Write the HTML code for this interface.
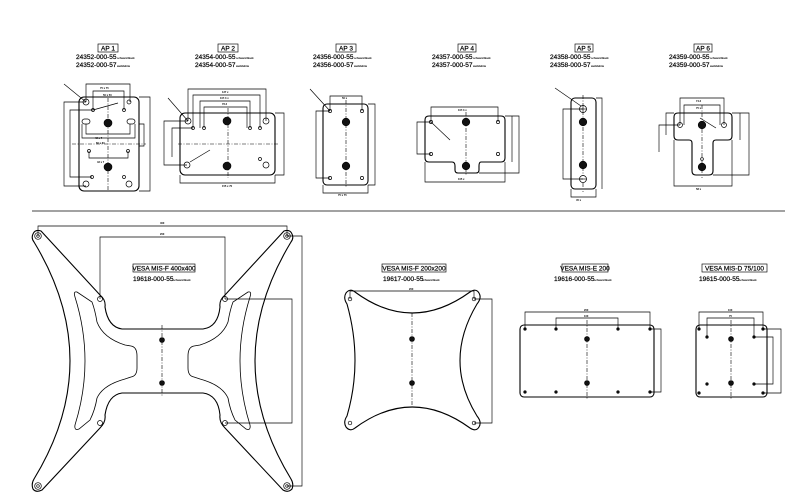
<!DOCTYPE html>
<html><head><meta charset="utf-8"><style>
html,body{margin:0;padding:0;background:#fff;}
svg{display:block;}
text{font-family:"Liberation Sans",sans-serif;fill:#000;}
.t{font-size:6.5px;stroke:#000;stroke-width:0.2;}
.s{font-size:2.6px;font-weight:bold;}
.ln{stroke:#000;stroke-width:0.9;fill:none;}
.th{stroke:#000;stroke-width:0.65;fill:none;}
.pl{stroke:#000;stroke-width:1.1;fill:#fff;}
.dash{stroke:#000;stroke-width:0.6;stroke-dasharray:4,1.5,1,1.5;fill:none;}
.bh{fill:#111;stroke:#000;stroke-width:0.6;}
.sh{fill:#fff;stroke:#000;stroke-width:0.7;}
</style></head><body>
<svg width="800" height="499" viewBox="0 0 800 499" xmlns="http://www.w3.org/2000/svg">
<rect width="800" height="499" fill="#fff"/>
<line x1="32" y1="211" x2="785" y2="211" stroke="#444" stroke-width="1"/>

<!-- ============ AP titles ============ -->
<g>
<rect x="98" y="44" width="20" height="8" class="th"/><text x="108" y="50.5" class="t" text-anchor="middle">AP 1</text>
<text x="76" y="59" class="t">24352-000-55</text><text x="117" y="59" class="s">schwarz/black</text>
<text x="76" y="67" class="t">24352-000-57</text><text x="117" y="67" class="s">weiß/white</text>

<rect x="218" y="44" width="20" height="8" class="th"/><text x="228" y="50.5" class="t" text-anchor="middle">AP 2</text>
<text x="195" y="59" class="t">24354-000-55</text><text x="236" y="59" class="s">schwarz/black</text>
<text x="195" y="67" class="t">24354-000-57</text><text x="236" y="67" class="s">weiß/white</text>

<rect x="336" y="44" width="20" height="8" class="th"/><text x="346" y="50.5" class="t" text-anchor="middle">AP 3</text>
<text x="313" y="59" class="t">24356-000-55</text><text x="354" y="59" class="s">schwarz/black</text>
<text x="313" y="67" class="t">24356-000-57</text><text x="354" y="67" class="s">weiß/white</text>

<rect x="458" y="44" width="18" height="8" class="th"/><text x="467" y="50.5" class="t" text-anchor="middle">AP 4</text>
<text x="432" y="59" class="t">24357-000-55</text><text x="473" y="59" class="s">schwarz/black</text>
<text x="432" y="67" class="t">24357-000-57</text><text x="473" y="67" class="s">weiß/white</text>

<rect x="575" y="44" width="18" height="8" class="th"/><text x="584" y="50.5" class="t" text-anchor="middle">AP 5</text>
<text x="550" y="59" class="t">24358-000-55</text><text x="591" y="59" class="s">schwarz/black</text>
<text x="550" y="67" class="t">24358-000-57</text><text x="591" y="67" class="s">weiß/white</text>

<rect x="694" y="44" width="18" height="8" class="th"/><text x="703" y="50.5" class="t" text-anchor="middle">AP 6</text>
<text x="669" y="59" class="t">24359-000-55</text><text x="710" y="59" class="s">schwarz/black</text>
<text x="669" y="67" class="t">24359-000-57</text><text x="710" y="67" class="s">weiß/white</text>
</g>

<!-- ============ AP1 ============ -->
<g>
<rect x="79" y="97" width="60" height="94" rx="5" class="pl"/>
<line x1="108" y1="98" x2="108" y2="191" class="dash"/>
<line x1="72" y1="144" x2="146" y2="144" class="dash"/>
<circle cx="108" cy="123" r="4" class="bh"/><circle cx="108" cy="167" r="4" class="bh"/>
<circle cx="86" cy="102" r="3" class="sh"/><circle cx="129" cy="102" r="2" class="sh"/>
<circle cx="93" cy="110" r="1.5" class="sh"/><circle cx="124" cy="110" r="1.5" class="sh"/>
<rect x="82" y="119" width="8" height="5" rx="2.5" class="sh"/><rect x="127" y="119" width="8" height="5" rx="2.5" class="sh"/>
<circle cx="89" cy="151" r="1.5" class="sh"/><circle cx="128" cy="151" r="1.5" class="sh"/>
<circle cx="92" cy="177" r="1.5" class="sh"/><circle cx="124" cy="177" r="1.5" class="sh"/>
<circle cx="86" cy="184" r="3" class="sh"/><circle cx="129" cy="184" r="3" class="sh"/>
<path d="M86,102 V84 H130 V102 M93,110 V91 H124 V110" class="th"/>
<path d="M86,124 V134 H130 V124 M82,124 V138 H135 V124" class="th"/>
<path d="M89,151 V158 H128 V151" class="th"/>
<path d="M86,102 H64 V186 H86 M93,110 H70 V177 H92" class="th"/>
<path d="M139,124 H144 V146 H139 M139,97 H150 V191 H139" class="th"/>
<line x1="64" y1="84" x2="86" y2="102" class="th"/>
<line x1="93" y1="110" x2="118" y2="103" class="th"/>
<text x="100" y="89" class="s">75 x 75</text><text x="103" y="96" class="s">50 x 50</text>
<text x="95" y="139" class="s">42 x 7</text><text x="96" y="144" class="s">60 x 60</text><text x="97" y="163" class="s">42 x 7</text>
</g>

<!-- ============ AP2 ============ -->
<g>
<rect x="180" y="113" width="95" height="62" rx="5" class="pl"/>
<line x1="228" y1="108" x2="228" y2="178" class="dash"/>
<line x1="178" y1="144" x2="278" y2="144" class="dash"/>
<circle cx="227" cy="121" r="4" class="bh"/><circle cx="227" cy="166" r="4" class="bh"/>
<circle cx="188" cy="121" r="3" class="sh"/><circle cx="266" cy="121" r="3" class="sh"/>
<circle cx="193" cy="128" r="1.5" class="sh"/><circle cx="260" cy="128" r="1.5" class="sh"/>
<circle cx="204" cy="128" r="1.5" class="sh"/><circle cx="250" cy="128" r="1.5" class="sh"/>
<circle cx="187" cy="165" r="3" class="sh"/><circle cx="266" cy="165" r="3" class="sh"/>
<circle cx="260" cy="159" r="1.5" class="sh"/>
<path d="M188,121 V89 H266 V121 M193,128 V95 H260 V128 M200,128 V101 H250 V128 M204,128 V107 H247 V128" class="th"/>
<path d="M188,121 H164 V165 H187 M193,128 H172 V157" class="th"/>
<path d="M275,113 H284 V175 H275 M180,175 V183 H275 V175" class="th"/>
<line x1="168" y1="98" x2="188" y2="121" class="th"/><line x1="190" y1="162" x2="210" y2="150" class="th"/>
<text x="222" y="93" class="s">127 x</text><text x="220" y="99" class="s">107.3 x</text><text x="222" y="105" class="s">76.2</text>
<text x="222" y="187" class="s">155 x 70</text>
</g>

<!-- ============ AP3 ============ -->
<g>
<rect x="323" y="104" width="45" height="81" rx="4" class="pl"/>
<line x1="346" y1="100" x2="346" y2="188" class="dash"/>
<circle cx="346" cy="122" r="3.8" class="bh"/><circle cx="346" cy="166" r="3.8" class="bh"/>
<circle cx="330" cy="111" r="1.6" class="sh"/><circle cx="362" cy="111" r="1.6" class="sh"/>
<circle cx="330" cy="178" r="1.6" class="sh"/><circle cx="362" cy="178" r="1.6" class="sh"/>
<path d="M330,111 V96 H362 V111" class="th"/>
<path d="M330,111 H316 V178 H330 M368,104 H375 V185 H368 M323,185 V193 H368 V185" class="th"/>
<line x1="310" y1="89" x2="330" y2="111" class="th"/>
<text x="342" y="99" class="s">50 x</text><text x="338" y="196" class="s">75 x 75</text>
</g>

<!-- ============ AP4 ============ -->
<g>
<path d="M429,116 H501 Q505,116 505,120 V158 Q505,162 501,162 H481 Q479,162 479,166 V170 Q479,173 476,173 H458 Q455,173 455,170 V166 Q455,162 452,162 H429 Q425,162 425,158 V120 Q425,116 429,116 Z" class="pl"/>
<line x1="466" y1="112" x2="466" y2="176" class="dash"/>
<circle cx="466" cy="122" r="3.8" class="bh"/><circle cx="466" cy="166" r="3.8" class="bh"/>
<circle cx="431" cy="122" r="1.6" class="sh"/><circle cx="498" cy="122" r="1.6" class="sh"/>
<circle cx="431" cy="154" r="1.6" class="sh"/><circle cx="498" cy="154" r="1.6" class="sh"/>
<path d="M431,122 V107 H498 V122 M431,122 H417 V154 H431" class="th"/>
<path d="M505,116 H512 V162 M505,116 H519 V173 H479 M425,162 V182 H505 V162" class="th"/>
<line x1="431" y1="122" x2="450" y2="140" class="th"/>
<text x="458" y="111" class="s">107.3 x</text><text x="458" y="180" class="s">105 x</text>
</g>

<!-- ============ AP5 ============ -->
<g>
<rect x="571" y="98" width="25" height="91" rx="4" class="pl"/>
<line x1="583" y1="95" x2="583" y2="192" class="dash"/>
<circle cx="583" cy="109" r="3.5" class="sh"/><line x1="579" y1="109" x2="587" y2="109" class="th"/><line x1="583" y1="105" x2="583" y2="113" class="th"/>
<circle cx="583" cy="122" r="3.8" class="bh"/><circle cx="583" cy="165" r="3.8" class="bh"/>
<circle cx="583" cy="179" r="3.5" class="sh"/><line x1="579" y1="179" x2="587" y2="179" class="th"/>
<path d="M583,109 H563 V179 H583 M596,98 H602 V189 M571,189 V197 H596 V189" class="th"/>
<line x1="555" y1="88" x2="581" y2="106" class="th"/>
<text x="576" y="201" class="s">45 x</text>
</g>

<!-- ============ AP6 ============ -->
<g>
<path d="M678,113 H728 Q732,113 732,117 V136 Q732,140 728,140 H716 Q713,140 713,143 V171 Q713,175 709,175 H696 Q692,175 692,171 V143 Q692,140 689,140 H678 Q674,140 674,136 V117 Q674,113 678,113 Z" class="pl"/>
<line x1="702" y1="105" x2="702" y2="178" class="dash"/>
<circle cx="702" cy="125" r="3.8" class="bh"/><circle cx="702" cy="167" r="3.8" class="bh"/>
<circle cx="702" cy="159" r="1.4" class="sh"/>
<circle cx="680" cy="125" r="2.5" class="sh"/><circle cx="724" cy="125" r="2.5" class="sh"/>
<path d="M680,125 V98 H724 V125 M684,125 V105 H720 V125" class="th"/>
<path d="M680,125 H659 V152 M674,113 H666 V135 M732,113 H740 V140 M732,113 H749 V175 H713 M674,140 V186 H732 V140" class="th"/>
<line x1="700" y1="118" x2="716" y2="128" class="th"/>
<text x="696" y="102" class="s">74.2</text><text x="696" y="109" class="s">75 x</text><text x="696" y="190" class="s">58 x</text>
</g>

<!-- ============ VESA 400x400 ============ -->
<g>
<path d="M33,234 Q35,229 41,231 L100,295 Q106,300 105,307 Q108,327 122,329 H203 Q218,327 220,307 Q219,300 225,295 L284,231 Q290,229 292,234 Q294,238 291,242 Q219,361 291,479 Q294,484 292,489 Q288,493 283,490 L225,428 Q219,422 220,415 Q218,395 203,393 H122 Q108,395 105,415 Q106,422 100,428 L42,490 Q36,493 33,489 Q31,484 34,479 Q106,361 34,242 Q31,238 33,234 Z" class="pl"/>
<path d="M77,292 Q73,291 75,297 Q95,361 75,425 Q74,431 79,429 L90,420 Q95,410 97,398 Q103,385 125,379 L131,377 Q137,376 137,368 V356 Q137,347 131,346 L125,345 Q103,338 97,322 Q95,310 92,302 Z" class="th" style="stroke-width:0.8"/>
<path d="M248,292 Q252,291 250,297 Q230,361 250,425 Q251,431 246,429 L235,420 Q230,410 228,398 Q222,385 200,379 L194,377 Q188,376 188,368 V356 Q188,347 194,346 L200,345 Q222,338 228,322 Q230,310 233,302 Z" class="th" style="stroke-width:0.8"/>
<line x1="162" y1="325" x2="162" y2="397" class="dash"/>
<circle cx="162" cy="340" r="2.5" class="bh"/><circle cx="162" cy="383" r="2.5" class="bh"/>
<g class="sh">
<circle cx="38" cy="236" r="3.3"/><circle cx="287" cy="236" r="3.3"/><circle cx="38" cy="486" r="3.3"/><circle cx="287" cy="486" r="3.3"/>
<circle cx="100" cy="299" r="2.5"/><circle cx="225" cy="299" r="2.5"/><circle cx="100" cy="423" r="2.5"/><circle cx="225" cy="423" r="2.5"/>
</g>
<g class="th">
<circle cx="38" cy="236" r="1.3"/><circle cx="287" cy="236" r="1.3"/><circle cx="38" cy="486" r="1.3"/><circle cx="287" cy="486" r="1.3"/>
</g>
<path d="M38,236 V226 H287 V236 M100,299 V237 H225 V299" class="th"/>
<path d="M225,299 H292 V423 H225 M287,236 H302 V486 H287" class="th"/>
<text x="160" y="224" class="s">400</text><text x="160" y="235" class="s">200</text>
<rect x="133" y="264" width="62" height="8" class="th"/><text x="164" y="270.5" class="t" text-anchor="middle">VESA MIS-F 400x400</text>
<text x="133" y="281" class="t">19618-000-55</text><text x="173" y="281" class="s">schwarz/black</text>
</g>

<!-- ============ VESA 200x200 ============ -->
<g>
<path d="M346,293 Q350,288 355,292 Q412,334 470,292 Q476,288 479,293 Q482,298 477,304 Q443,361 477,416 Q482,422 479,427 Q476,432 470,428 Q412,386 355,428 Q350,432 346,427 Q343,422 347,416 Q363,361 347,304 Q343,298 346,293 Z" class="pl"/>
<line x1="412" y1="313" x2="412" y2="408" class="dash"/>
<circle cx="412" cy="339" r="2.5" class="bh"/><circle cx="412" cy="383" r="2.5" class="bh"/>
<g class="sh"><circle cx="350" cy="299" r="1.8"/><circle cx="474" cy="299" r="1.8"/><circle cx="350" cy="423" r="1.8"/><circle cx="474" cy="423" r="1.8"/></g>
<path d="M350,299 V291 H474 V299 M474,299 H492 V423 H474" class="th"/>
<text x="409" y="290" class="s">200</text>
<rect x="382" y="264" width="64" height="8" class="th"/><text x="414" y="270.5" class="t" text-anchor="middle">VESA MIS-F 200x200</text>
<text x="383" y="281" class="t">19617-000-55</text><text x="422" y="281" class="s">schwarz/black</text>
</g>

<!-- ============ VESA MIS-E 200 ============ -->
<g>
<rect x="520" y="325" width="134" height="72" rx="4" class="pl"/>
<line x1="587" y1="320" x2="587" y2="400" class="dash"/>
<circle cx="587" cy="339" r="2.5" class="bh"/><circle cx="587" cy="383" r="2.5" class="bh"/>
<g class="bh"><circle cx="525" cy="329" r="1.3"/><circle cx="556" cy="329" r="1.3"/><circle cx="618" cy="329" r="1.3"/><circle cx="650" cy="329" r="1.3"/>
<circle cx="525" cy="392" r="1.3"/><circle cx="556" cy="392" r="1.3"/><circle cx="618" cy="392" r="1.3"/><circle cx="650" cy="392" r="1.3"/></g>
<path d="M525,329 V312 H650 V329 M556,329 V318 H618 V329 M650,329 H661 V392 H650" class="th"/>
<text x="584" y="311" class="s">200</text><text x="584" y="317" class="s">100</text>
<rect x="562" y="264" width="46" height="8" class="th"/><text x="585" y="270.5" class="t" text-anchor="middle">VESA MIS-E 200</text>
<text x="554" y="281" class="t">19616-000-55</text><text x="594" y="281" class="s">schwarz/black</text>
</g>

<!-- ============ VESA MIS-D 75/100 ============ -->
<g>
<rect x="696" y="325" width="71" height="72" rx="4" class="pl"/>
<line x1="731" y1="320" x2="731" y2="400" class="dash"/>
<circle cx="731" cy="339" r="2.5" class="bh"/><circle cx="731" cy="383" r="2.5" class="bh"/>
<g class="bh"><circle cx="699" cy="329" r="1.3"/><circle cx="763" cy="329" r="1.3"/><circle cx="699" cy="393" r="1.3"/><circle cx="763" cy="393" r="1.3"/>
<circle cx="707" cy="337" r="1.3"/><circle cx="754" cy="337" r="1.3"/><circle cx="707" cy="384" r="1.3"/><circle cx="754" cy="384" r="1.3"/></g>
<path d="M699,329 V312 H763 V329 M707,337 V318 H754 V337 M754,337 H773 V384 H754 M763,329 H781 V393 H763" class="th"/>
<text x="728" y="311" class="s">100</text><text x="729" y="317" class="s">75</text>
<rect x="702" y="264" width="65" height="8" class="th"/><text x="734.5" y="270.5" class="t" text-anchor="middle">VESA MIS-D 75/100</text>
<text x="699" y="281" class="t">19615-000-55</text><text x="739" y="281" class="s">schwarz/black</text>
</g>
</svg>
</body></html>
